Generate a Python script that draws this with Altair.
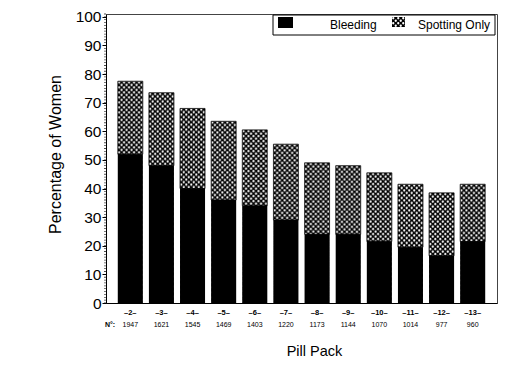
import base64
import altair as alt
import pandas as pd

packs = [2, 3, 4, 5, 6, 7, 8, 9, 10, 11, 12, 13]
n_women = [1947, 1621, 1545, 1469, 1403, 1220, 1173, 1144, 1070, 1014, 977, 960]
bleeding = [52, 48, 40, 36, 34, 29, 24, 24, 21.5, 19.5, 16.5, 21.5]
spotting = [25.5, 25.5, 28, 27.5, 26.5, 26.5, 25, 24, 24, 22, 22, 20]
y_major = [0, 10, 20, 30, 40, 50, 60, 70, 80, 90, 100]
y_minor = list(range(0, 102))

df = pd.DataFrame({
    "pack": [str(p) for p in packs],
    "n": [str(v) for v in n_women],
    "bleeding": bleeding,
    "spotting": spotting,
})
df["total"] = df["bleeding"] + df["spotting"]
order = [str(p) for p in packs]
minor_df = pd.DataFrame({"t": y_minor})

W, H = 391, 289
BAR = 25


def pattern_uri(w, h):
    svg = (
        f'<svg xmlns="http://www.w3.org/2000/svg" width="{w}" height="{h}">'
        '<defs><pattern id="p" width="5" height="5" patternUnits="userSpaceOnUse">'
        '<rect width="5" height="5" fill="black"/>'
        '<circle cx="1.25" cy="1.25" r="1.15" fill="white"/>'
        '<circle cx="3.75" cy="3.75" r="1.15" fill="white"/>'
        '</pattern></defs>'
        f'<rect width="{w}" height="{h}" fill="url(#p)"/></svg>'
    )
    return "data:image/svg+xml;base64," + base64.b64encode(svg.encode()).decode()


bar_uri = pattern_uri(BAR, 300)
leg_uri = pattern_uri(13, 10)

x_axis = alt.Axis(
    title="Pill Pack", labelExpr="'–' + datum.label + '–'",
    labelAngle=0, labelFontSize=7.5, labelFontWeight="bold", labelColor="black",
    labelPadding=5, ticks=False, domainColor="black",
    titleFontSize=14.5, titleFontWeight="normal", titleColor="black",
    titleX=208, titleY=52, titleBaseline="alphabetic",
)
x_scale = alt.Scale(paddingInner=0.2, paddingOuter=0.38)
y_scale = alt.Scale(domain=[0, 101], nice=False)
y_axis = alt.Axis(
    title="Percentage of Women", values=y_major,
    tickSize=4, labelFontSize=15.5, labelColor="black", labelPadding=1,
    tickColor="black", domainColor="black", grid=False,
    titleFontSize=16, titleFontWeight="normal", titleColor="black",
    titleX=-51, titleY=140, titleBaseline="middle",
)


def X():
    return alt.X("pack:N", sort=order, scale=x_scale, axis=x_axis)


def Y(field):
    return alt.Y(field, scale=y_scale, axis=y_axis)


base = alt.Chart(df)

spot_img = base.mark_image(
    width=BAR, height=300, align="center", baseline="top", clip=True
).encode(x=X(), y=Y("total:Q"), url=alt.value(bar_uri))

bleed_bar = base.mark_bar(size=BAR, color="black").encode(x=X(), y=Y("bleeding:Q"))

outline = base.mark_bar(size=BAR, fillOpacity=0, stroke="black", strokeWidth=0.8).encode(
    x=X(), y=Y("bleeding:Q"), y2="total:Q",
)

n_text = base.mark_text(fontSize=7, color="black", baseline="middle").encode(
    x=X(), y=alt.value(H + 22), text="n:N",
)

minor = alt.Chart(minor_df).mark_tick(
    color="black", size=2, thickness=0.8, clip=False
).encode(y=Y("t:Q"), x=alt.value(-1))

one = pd.DataFrame({"a": [0]})
nlabel = alt.Chart(one).mark_text(
    fontSize=7, fontWeight="bold", color="black", baseline="middle", align="center"
).encode(x=alt.value(4), y=alt.value(H + 22), text=alt.value("N°:"))

leg_box = alt.Chart(one).mark_rect(fill="white", stroke="black", strokeWidth=1).encode(
    x=alt.value(167), x2=alt.value(389), y=alt.value(1), y2=alt.value(21)
)
leg_black = alt.Chart(one).mark_rect(fill="black").encode(
    x=alt.value(172), x2=alt.value(187), y=alt.value(3), y2=alt.value(14)
)
leg_pat = alt.Chart(one).mark_image(width=13, height=10, align="center", baseline="middle").encode(
    x=alt.value(292.5), y=alt.value(8), url=alt.value(leg_uri)
)
leg_t1 = alt.Chart(one).mark_text(fontSize=12, align="left", baseline="alphabetic", color="black").encode(
    x=alt.value(224), y=alt.value(15), text=alt.value("Bleeding")
)
leg_t2 = alt.Chart(one).mark_text(fontSize=12, align="left", baseline="alphabetic", color="black").encode(
    x=alt.value(312), y=alt.value(15), text=alt.value("Spotting Only")
)

chart = alt.layer(
    spot_img, bleed_bar, outline, n_text, minor, nlabel,
    leg_box, leg_black, leg_pat, leg_t1, leg_t2,
).properties(
    width=W, height=H,
    padding={"left": 98, "top": 6, "right": 23, "bottom": 56},
    autosize=alt.AutoSizeParams(type="none"),
).configure(
    font="Liberation Sans",
).configure_view(
    stroke="#444", strokeWidth=1,
)

chart.save("out.html", embed_options={"renderer": "svg", "actions": False})
